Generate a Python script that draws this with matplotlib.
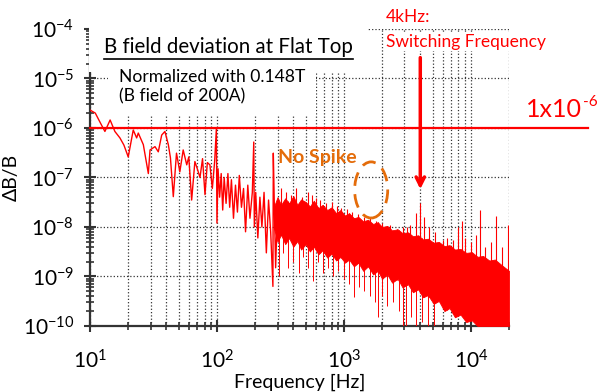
import numpy as np
import matplotlib
matplotlib.use('Agg')
import matplotlib.pyplot as plt
from matplotlib.patches import Ellipse
from matplotlib.lines import Line2D

plt.rcParams['font.family'] = ['Lato', 'DejaVu Sans']
plt.rcParams['mathtext.fontset'] = 'custom'
plt.rcParams['mathtext.rm'] = 'Lato'
plt.rcParams['mathtext.it'] = 'Lato:italic'
plt.rcParams['mathtext.bf'] = 'Lato:bold'

# sparse trace, low frequencies (Hz, dB/B)
trace_freq = [10, 11, 12, 13.1, 14.4, 15.7, 17.2, 18.5, 20, 21.9, 23.3, 24, 26.3, 28.8,
              29.7, 32.5, 34.5, 36.7, 38.9, 41.4, 43, 45.3, 48, 51, 54.2, 57.8, 60, 63.2,
              67, 70, 73.5, 77, 80.5, 84, 88, 92, 96, 99, 100, 102, 105, 108, 111, 114,
              118, 122, 126, 130, 135, 140, 145, 150, 156, 162, 168, 175, 182, 190, 195,
              197, 202, 210, 218, 226, 235, 245, 255, 265, 276, 278, 283, 290, 300]
trace_val = [2.3e-6, 2.0e-6, 1.3e-6, 8.5e-7, 1.45e-6, 8.5e-7, 6.3e-7, 4.5e-7, 2.6e-7,
             9.1e-7, 6.3e-7, 7.9e-7, 4.6e-7, 1.2e-7, 3.6e-7, 4.2e-7, 3.3e-7, 7.2e-7,
             8.5e-7, 4.6e-7, 2.5e-7, 4.1e-8, 3.1e-7, 1.3e-7, 3.6e-7, 1.8e-7, 2.6e-7,
             3.5e-8, 2.1e-7, 1.5e-7, 1.0e-7, 2.4e-7, 4.5e-8, 2.0e-7, 1.8e-7, 6e-8, 2.2e-7,
             1e-6, 1.2e-8, 1.5e-7, 4e-8, 1.2e-7, 2.2e-8, 1.0e-7, 3e-8, 1.2e-7, 2.5e-8,
             9e-8, 1.5e-8, 7e-8, 2e-8, 1.1e-7, 2.5e-8, 6e-8, 8e-9, 7e-8, 1.5e-8, 5e-8,
             5.2e-7, 1e-8, 5e-8, 6e-9, 4e-8, 1e-8, 5e-8, 3e-9, 3.5e-8, 8e-9, 6.3e-10,
             3.1e-7, 3e-8, 1.5e-9, 2.5e-8]

# dense noise band above ~280 Hz (upper / lower edge)
band_freq = [280, 300, 320, 345, 370, 400, 430, 460, 500, 540, 580, 630, 680, 740, 800,
             870, 940, 1020, 1100, 1200, 1300, 1420, 1550, 1700, 1850, 2000, 2200, 2400,
             2650, 2900, 3200, 3500, 3850, 4200, 4600, 5100, 5600, 6200, 6800, 7500, 8300,
             9200, 10200, 11300, 12500, 14000, 15500, 17500, 20000]
band_hi = [2.5e-8, 4e-8, 2.8e-8, 3.8e-8, 3e-8, 4.2e-8, 2.8e-8, 3.6e-8, 3.2e-8, 2.6e-8,
           3.4e-8, 2.4e-8, 2.8e-8, 2.2e-8, 2.5e-8, 1.9e-8, 2.2e-8, 1.7e-8, 1.9e-8, 1.5e-8,
           1.6e-8, 1.3e-8, 1.4e-8, 1.15e-8, 1.25e-8, 1e-8, 1.05e-8, 8.5e-9, 9e-9, 7.5e-9,
           7.8e-9, 6.5e-9, 6.8e-9, 5.6e-9, 5.8e-9, 4.8e-9, 5e-9, 4.1e-9, 4.3e-9, 3.5e-9,
           3.6e-9, 3e-9, 3.1e-9, 2.5e-9, 2.6e-9, 2.1e-9, 2.2e-9, 1.7e-9, 1.3e-9]
band_lo = [1e-8, 5e-9, 7e-9, 4.5e-9, 6e-9, 4e-9, 5.2e-9, 3.5e-9, 4.5e-9, 3.2e-9,
           4e-9, 2.8e-9, 3.4e-9, 2.4e-9, 2.9e-9, 2.1e-9, 2.5e-9, 1.9e-9, 2.2e-9, 1.6e-9,
           1.9e-9, 1.3e-9, 1.6e-9, 1.1e-9, 1.3e-9, 9e-10, 1.1e-9, 7.5e-10, 9e-10, 6e-10,
           7e-10, 4.8e-10, 5.5e-10, 3.8e-10, 4.2e-10, 2.8e-10, 3.2e-10, 2e-10, 2.3e-10,
           1.5e-10, 1.7e-10, 1.2e-10, 1.3e-10, 1e-10, 1e-10, 1e-10, 1e-10, 1e-10, 1e-10]

spike_freq = [320, 350, 380, 420, 470, 520, 560, 600, 650, 720, 800, 880, 950, 1050,
              1150, 1300, 1450, 1600, 1800, 2000, 2300, 2600, 2900, 3130, 3300, 3700,
              4000, 4300, 4700, 5200, 6000, 6500, 7200, 8000, 8500, 9000, 10000, 11000,
              11800, 13000, 14500, 15900, 17500, 19500]
spike_top = [6e-8, 5e-8, 4.5e-8, 6e-8, 4e-8, 5e-8, 4.5e-8, 3.8e-8, 3.5e-8, 3e-8, 3.2e-8,
             2.6e-8, 2.4e-8, 2.3e-8, 2e-8, 1.8e-8, 1.6e-8, 1.5e-8, 1.3e-8, 1.2e-8, 1.1e-8,
             9e-9, 1e-8, 1e-8, 1.1e-8, 1.9e-8, 3e-8, 1.6e-8, 1e-8, 8e-9, 5.5e-9, 6e-9,
             5.5e-9, 1e-8, 1.3e-8, 6e-9, 5e-9, 7e-9, 2.2e-8, 4e-9, 5e-9, 1.7e-8, 4e-9,
             1.1e-8]

dip_freq = [310, 330, 360, 400, 440, 480, 520, 570, 620, 680, 750, 820, 900, 1000,
            1100, 1200, 1320, 1450, 1600, 1750, 1850, 2000, 2200, 2450, 2700, 2900,
            3100, 3400, 3700, 4100, 4600, 5100]
dip_bottom = [1e-9, 3e-9, 1.5e-9, 2e-9, 1.2e-9, 2.5e-9, 1.5e-9, 8e-10, 2e-9, 1.2e-9,
              1.5e-9, 1e-9, 1.3e-9, 9e-10, 7e-10, 3.8e-10, 6e-10, 5e-10, 4e-10, 3e-10,
              1.5e-10, 4e-10, 2.5e-10, 3e-10, 2e-10, 1e-10, 1e-10, 1.5e-10, 1e-10,
              1.2e-10, 1e-10, 1e-10]

limit_level = 1e-6
switch_freq = 4000

red = '#ff0000'
orange = '#e46c0a'

fig = plt.figure(figsize=(5.97, 3.92), dpi=100)
ax = fig.add_axes([0.1508, 0.1684, 0.7018, 0.7577])
ax.set_xscale('log')
ax.set_yscale('log')
ax.set_xlim(10, 2e4)
ax.set_ylim(1e-10, 1e-4)
ax.set_axisbelow(True)

# noise trace
ax.plot(trace_freq, trace_val, color=red, lw=1.0, zorder=4)
ax.fill_between(band_freq, band_lo, band_hi, color=red, lw=0.6, edgecolor=red, zorder=4)
lf = np.log10(band_freq)
sp_base = 10 ** np.interp(np.log10(spike_freq), lf, np.log10(band_lo))
ax.vlines(spike_freq, sp_base, spike_top, color=red, lw=0.8, zorder=4)
dp_base = 10 ** np.interp(np.log10(dip_freq), lf, np.log10(band_hi))
ax.vlines(dip_freq, dip_bottom, dp_base, color=red, lw=0.7, zorder=4)

# 1e-6 limit line running past the axes
ax.axhline(limit_level, xmin=0, xmax=1.189, color=red, lw=1.6, clip_on=False, zorder=5)
lim_txt = ax.text(1.04, 0.704, '1x10', transform=ax.transAxes, color=red, fontsize=18,
                  ha='left', va='baseline')
ax.annotate('-6', xy=(1.0, 1.0), xycoords=lim_txt, xytext=(1, 2),
            textcoords='offset points', color=red, fontsize=11, ha='left', va='top')

# grid and axes styling
ax.grid(True, which='major', axis='both', ls=':', color='#333333', lw=0.9)
ax.grid(True, which='minor', axis='x', ls=':', color='#333333', lw=0.9)
for s in ['top', 'right']:
    ax.spines[s].set_visible(False)
for s in ['left', 'bottom']:
    ax.spines[s].set_linewidth(1.6)
    ax.spines[s].set_color('#333333')
ax.tick_params(which='major', direction='inout', length=9, width=1.5, color='#333333',
               labelsize=15)
ax.tick_params(which='minor', direction='inout', length=6, width=1.2, color='#333333')
ax.tick_params(axis='x', which='major', pad=12)
ax.tick_params(axis='y', which='major', pad=7)
ax.yaxis.set_major_locator(matplotlib.ticker.LogLocator(base=10, numticks=10))
ax.yaxis.set_minor_locator(matplotlib.ticker.LogLocator(base=10, subs=np.arange(2, 10), numticks=20))
ax.yaxis.set_minor_formatter(matplotlib.ticker.NullFormatter())
ax.xaxis.set_minor_formatter(matplotlib.ticker.NullFormatter())

ax.set_xlabel('Frequency [Hz]', fontsize=14, labelpad=1)
ax.set_ylabel('ΔB/B', fontsize=14, labelpad=2)

# text boxes
title = ax.text(0.033, 0.939, 'B field deviation at Flat Top', transform=ax.transAxes,
                fontsize=14.8, ha='left', va='center', zorder=3,
                bbox=dict(facecolor='white', edgecolor='none', pad=11))
ax.text(0.069, 0.805, 'Normalized with 0.148T\n(B field of 200A)', transform=ax.transAxes,
        fontsize=12.6, ha='left', va='center', linespacing=1.3, zorder=3,
        bbox=dict(facecolor='white', edgecolor='none', pad=8))

# switching frequency arrow
ax.annotate('', xy=(switch_freq, 5.1e-8), xytext=(switch_freq, 3e-5),
            arrowprops=dict(arrowstyle='->,head_length=0.6,head_width=0.3',
                            color=red, lw=2.5), zorder=6)
ax.text(0.706, 1.04, '4kHz:', transform=ax.transAxes, color=red, fontsize=12.5,
        ha='left', va='center')
ax.text(0.706, 0.956, 'Switching Frequency', transform=ax.transAxes, color=red,
        fontsize=12.5, ha='left', va='center', zorder=6,
        bbox=dict(facecolor='white', edgecolor='none', pad=0.5))

# "No Spike" marker
ax.text(0.449, 0.566, 'No Spike', transform=ax.transAxes, color=orange, fontsize=14,
        fontweight='bold', ha='left', va='center', zorder=6)
ax.add_patch(Ellipse((0.671, 0.458), 0.079, 0.189, transform=ax.transAxes, fill=False,
                     edgecolor=orange, lw=2, ls=(0, (5, 3)), zorder=6))

# underline under the title
fig.canvas.draw()
bb = title.get_window_extent()
fig.add_artist(Line2D([bb.x0, bb.x1], [bb.y0 - 2, bb.y0 - 2], transform=None,
                      color='black', lw=1.2, zorder=7))

fig.savefig('out.png', dpi=100)
